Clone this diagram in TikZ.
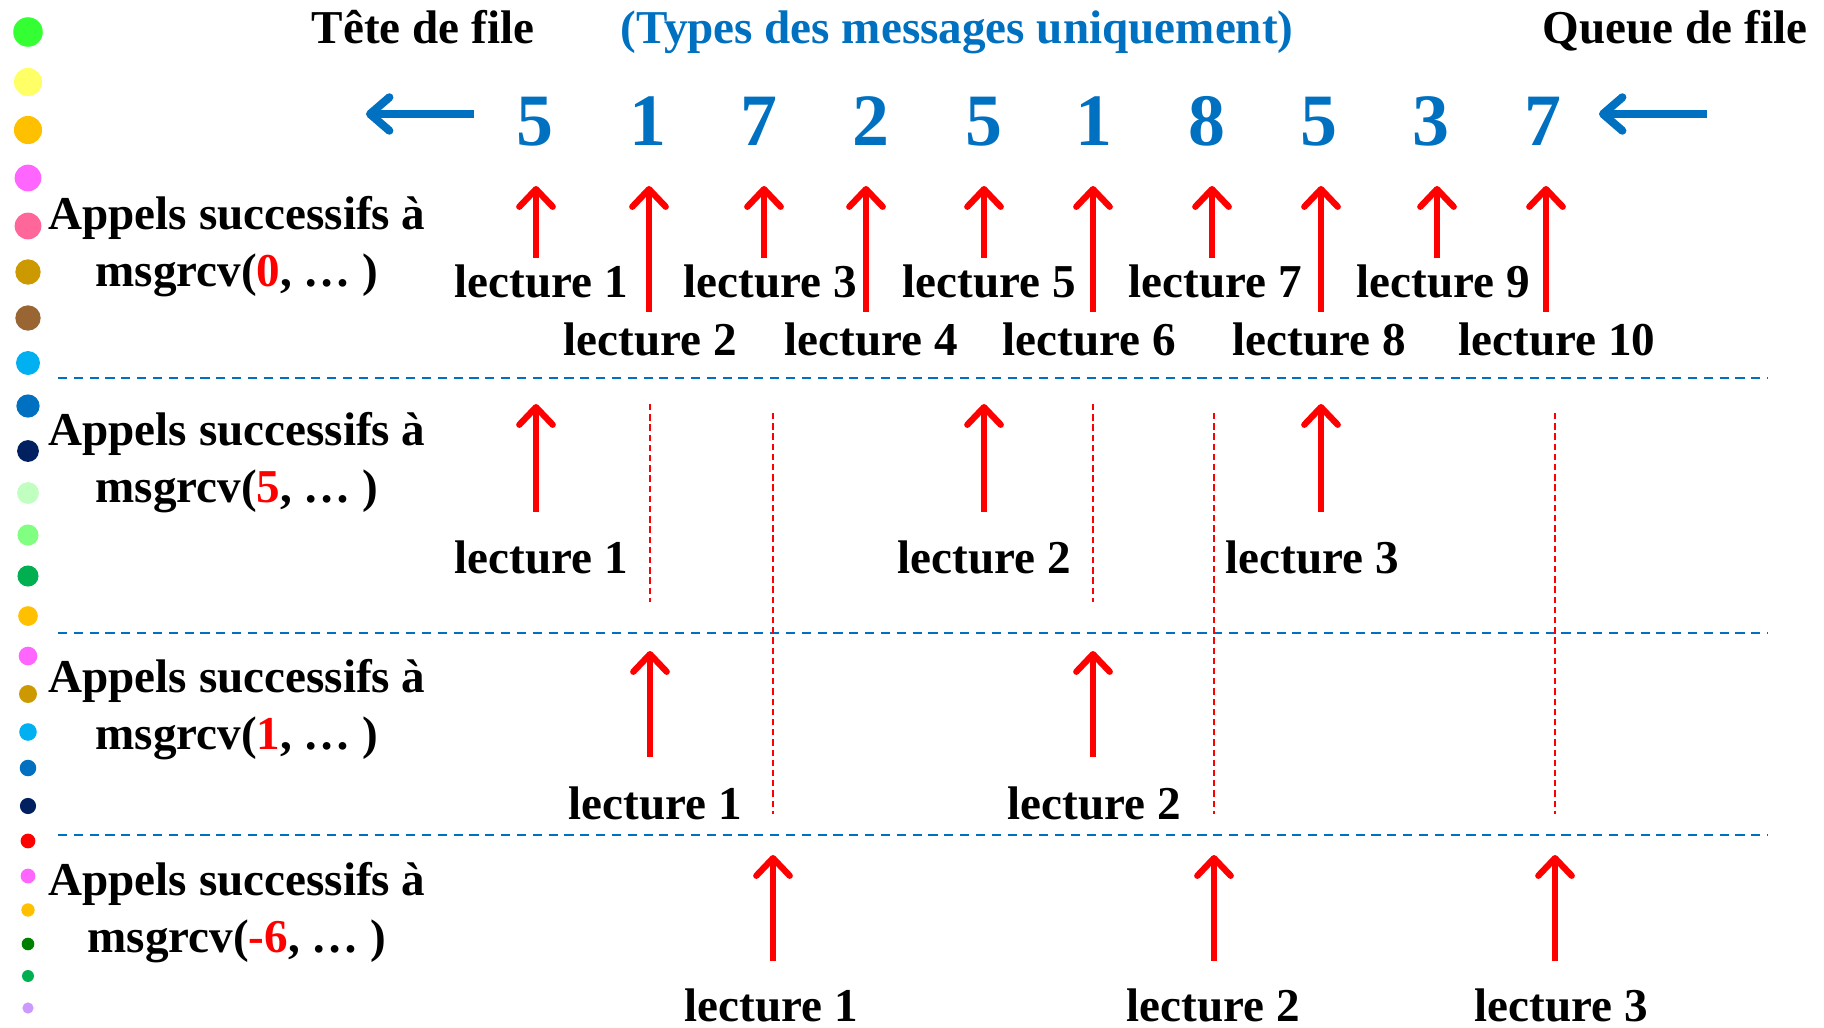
\documentclass[tikz,border=0pt]{standalone}
\usepackage{fontspec}
\setmainfont{Liberation Serif}
\usepackage{xcolor}
\usetikzlibrary{arrows.meta}
\definecolor{qblue}{HTML}{0070C0}
\definecolor{vif}{HTML}{33FF33}
\definecolor{jaune}{HTML}{FFFF66}
\definecolor{ambre}{HTML}{FFC000}
\definecolor{rose}{HTML}{FF66FF}
\definecolor{corail}{HTML}{FF6699}
\definecolor{ocre}{HTML}{CC9900}
\definecolor{brun}{HTML}{996633}
\definecolor{ciel}{HTML}{00B0F0}
\definecolor{marine}{HTML}{002060}
\definecolor{pale}{HTML}{C0FFC0}
\definecolor{clair}{HTML}{80FF80}
\definecolor{vert}{HTML}{00B050}
\definecolor{foret}{HTML}{008000}
\definecolor{lavande}{HTML}{CC99FF}
\tikzset{x=0.01cm, y=-0.01cm,
 lect/.style={font=\fontsize{13.4pt}{16.2pt}\selectfont\bfseries, anchor=base, inner sep=0pt},
 call/.style={lect, align=center},
 num/.style={font=\fontsize{21pt}{25pt}\selectfont\bfseries, text=qblue, anchor=base, inner sep=0pt},
 readarr/.style={draw=red, line width=1.8pt, -{Straight Barb[round,length=5pt,width=9.5pt]}},
 queuearr/.style={draw=qblue, line width=2.3pt, -{Straight Barb[round,length=5.5pt,width=9.5pt]}},
 sepline/.style={draw=qblue, line width=0.8pt, dash pattern=on 2.6pt off 1.9pt},
 reddash/.style={draw=red, line width=0.5pt, dash pattern=on 1.8pt off 1.1pt},
 }

\begin{document}
\begin{tikzpicture}
    \useasboundingbox (0,0) rectangle (1824,1027);
    % pastilles
    \fill[vif] (28,32) circle (4.2pt);
    \fill[jaune] (28,82) circle (4pt);
    \fill[ambre] (28,130) circle (4pt);
    \fill[rose] (28,178) circle (3.8pt);
    \fill[corail] (28,226) circle (3.8pt);
    \fill[ocre] (28,272) circle (3.6pt);
    \fill[brun] (28,318) circle (3.6pt);
    \fill[ciel] (28,363) circle (3.4pt);
    \fill[qblue] (28,406) circle (3.3pt);
    \fill[marine] (28,451) circle (3.1pt);
    \fill[pale] (28,493) circle (3.1pt);
    \fill[clair] (28,535) circle (3pt);
    \fill[vert] (28,576) circle (3pt);
    \fill[ambre] (28,616) circle (2.8pt);
    \fill[rose] (28,656) circle (2.65pt);
    \fill[ocre] (28,694) circle (2.55pt);
    \fill[ciel] (28,732) circle (2.5pt);
    \fill[qblue] (28,768) circle (2.35pt);
    \fill[marine] (28,806) circle (2.3pt);
    \fill[red] (28,841) circle (2.1pt);
    \fill[rose] (28,876) circle (2.1pt);
    \fill[ambre] (28,910) circle (1.9pt);
    \fill[foret] (28,944) circle (1.8pt);
    \fill[vert] (28,976) circle (1.7pt);
    \fill[lavande] (28,1008) circle (1.6pt);

    % en-tete et file
    \node[lect] (hd) at (423,43) {Tête de file};
    \node[lect, text=qblue] (ty) at (957,43) {(Types des messages uniquement)};
    \node[lect] (qu) at (1675,43) {Queue de file};
    \node[num] (d1) at (535,145) {5};
    \node[num] (d2) at (648,145) {1};
    \node[num] (d3) at (759,145) {7};
    \node[num] (d4) at (871,145) {2};
    \node[num] (d5) at (984,145) {5};
    \node[num] (d6) at (1094,145) {1};
    \node[num] (d7) at (1207,145) {8};
    \node[num] (d8) at (1319,145) {5};
    \node[num] (d9) at (1431,145) {3};
    \node[num] (d10) at (1543,145) {7};
    \coordinate (qa) at (474,114);
    \coordinate (qb) at (366,114);
    \coordinate (qc) at (1707,114);
    \coordinate (qd) at (1599,114);
    \draw[queuearr] (qa) -- (qb);
    \draw[queuearr] (qc) -- (qd);

    % appels
    \node[call] (a0) at (237,286) {Appels successifs à\\msgrcv(\textcolor{red}{0}, … )};
    \node[call] (a1) at (237,502) {Appels successifs à\\msgrcv(\textcolor{red}{5}, … )};
    \node[call] (a2) at (237,749) {Appels successifs à\\msgrcv(\textcolor{red}{1}, … )};
    \node[call] (a3) at (237,952) {Appels successifs à\\msgrcv(\textcolor{red}{-6}, … )};

    % separations
    \coordinate (w) at (58,0);
    \coordinate (e) at (1768,0);
    \coordinate (s1) at (0,378);
    \coordinate (s2) at (0,633);
    \coordinate (s3) at (0,835);
    \draw[sepline] (w |- s1) -- (e |- s1);
    \draw[sepline] (w |- s2) -- (e |- s2);
    \draw[sepline] (w |- s3) -- (e |- s3);

    % msgrcv(0)
    \coordinate (c1) at (536,0);
    \coordinate (c2) at (649,0);
    \coordinate (c3) at (764,0);
    \coordinate (c4) at (866,0);
    \coordinate (c5) at (984,0);
    \coordinate (c6) at (1093,0);
    \coordinate (c7) at (1212,0);
    \coordinate (c8) at (1321,0);
    \coordinate (c9) at (1437,0);
    \coordinate (c10) at (1546,0);
    \coordinate (t0) at (0,186);
    \coordinate (b0) at (0,258);
    \coordinate (bb0) at (0,312);
    \draw[readarr] (c1 |- b0) -- (c1 |- t0);
    \draw[readarr] (c2 |- bb0) -- (c2 |- t0);
    \draw[readarr] (c3 |- b0) -- (c3 |- t0);
    \draw[readarr] (c4 |- bb0) -- (c4 |- t0);
    \draw[readarr] (c5 |- b0) -- (c5 |- t0);
    \draw[readarr] (c6 |- bb0) -- (c6 |- t0);
    \draw[readarr] (c7 |- b0) -- (c7 |- t0);
    \draw[readarr] (c8 |- bb0) -- (c8 |- t0);
    \draw[readarr] (c9 |- b0) -- (c9 |- t0);
    \draw[readarr] (c10 |- bb0) -- (c10 |- t0);
    \node[lect] (l01) at (541,297) {lecture 1};
    \node[lect] (l02) at (650,355) {lecture 2};
    \node[lect] (l03) at (770,297) {lecture 3};
    \node[lect] (l04) at (871,355) {lecture 4};
    \node[lect] (l05) at (989,297) {lecture 5};
    \node[lect] (l06) at (1089,355) {lecture 6};
    \node[lect] (l07) at (1215,297) {lecture 7};
    \node[lect] (l08) at (1319,355) {lecture 8};
    \node[lect] (l09) at (1443,297) {lecture 9};
    \node[lect] (l10) at (1557,355) {lecture 10};

    % pointilles
    \coordinate (u1) at (650,0);
    \coordinate (u2) at (1093,0);
    \coordinate (v1) at (773,0);
    \coordinate (v2) at (1214,0);
    \coordinate (v3) at (1555,0);
    \coordinate (ut) at (0,404);
    \coordinate (ub) at (0,602);
    \coordinate (vt) at (0,413);
    \coordinate (vb) at (0,814);
    \draw[reddash] (u1 |- ut) -- (u1 |- ub);
    \draw[reddash] (u2 |- ut) -- (u2 |- ub);
    \draw[reddash] (v1 |- vt) -- (v1 |- vb);
    \draw[reddash] (v2 |- vt) -- (v2 |- vb);
    \draw[reddash] (v3 |- vt) -- (v3 |- vb);

    % msgrcv(5)
    \coordinate (t1) at (0,404);
    \coordinate (b1) at (0,512);
    \draw[readarr] (c1 |- b1) -- (c1 |- t1);
    \draw[readarr] (c5 |- b1) -- (c5 |- t1);
    \draw[readarr] (c8 |- b1) -- (c8 |- t1);
    \node[lect] (l11) at (541,573) {lecture 1};
    \node[lect] (l12) at (984,573) {lecture 2};
    \node[lect] (l13) at (1312,573) {lecture 3};

    % msgrcv(1)
    \coordinate (t2) at (0,651);
    \coordinate (b2) at (0,757);
    \draw[readarr] (u1 |- b2) -- (u1 |- t2);
    \draw[readarr] (u2 |- b2) -- (u2 |- t2);
    \node[lect] (l21) at (655,819) {lecture 1};
    \node[lect] (l22) at (1094,819) {lecture 2};

    % msgrcv(-6)
    \coordinate (t3) at (0,855);
    \coordinate (b3) at (0,961);
    \draw[readarr] (v1 |- b3) -- (v1 |- t3);
    \draw[readarr] (v2 |- b3) -- (v2 |- t3);
    \draw[readarr] (v3 |- b3) -- (v3 |- t3);
    \node[lect] (l31) at (771,1021) {lecture 1};
    \node[lect] (l32) at (1213,1021) {lecture 2};
    \node[lect] (l33) at (1561,1021) {lecture 3};
\end{tikzpicture}
\end{document}
